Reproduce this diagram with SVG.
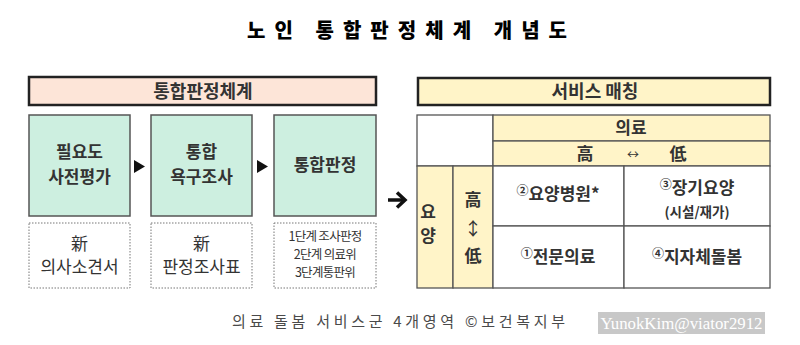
<svg xmlns="http://www.w3.org/2000/svg" width="800" height="345" viewBox="0 0 800 345">
<defs>
<style>
text{font-family:"Noto Sans CJK KR","Noto Sans",sans-serif;fill:#222}
.title{font-size:20px;font-weight:900;fill:#000}
.banner{stroke:#222;stroke-width:2.5}
.bt{font-size:18px;font-weight:700;fill:#333;text-anchor:middle}
.gbox{fill:#CDEFE0;stroke:#555;stroke-width:1.5}
.gt{font-size:17px;font-weight:700;fill:#333;text-anchor:middle}
.dbox{fill:#fff;stroke:#777;stroke-width:1;stroke-dasharray:1.5 1.5}
.dt{font-size:17px;fill:#333;text-anchor:middle}
.st{font-size:12.5px;fill:#333;text-anchor:middle;letter-spacing:-0.7px}
.cell{stroke:#555;stroke-width:1.3}
.tt{font-size:17px;font-weight:700;fill:#333;text-anchor:middle}
.sup{font-size:12px}
</style>
</defs>
<rect width="800" height="345" fill="#fff"/>
<text class="title" x="247" y="38" textLength="320" lengthAdjust="spacing">노인 통합판정체계 개념도</text>

<g id="left-header">
<rect class="banner" x="29" y="77" width="347" height="28" fill="#FDE5D8"/>
<text class="bt" x="203" y="98">통합판정체계</text>
</g>

<g id="node-need">
<rect class="gbox" x="29" y="115" width="101" height="101"/>
<text class="gt" x="79.5" y="158">필요도</text>
<text class="gt" x="79.5" y="183">사전평가</text>
</g>
<g id="node-survey">
<rect class="gbox" x="151" y="115" width="101" height="101"/>
<text class="gt" x="201.5" y="158">통합</text>
<text class="gt" x="201.5" y="183">욕구조사</text>
</g>
<g id="node-judge">
<rect class="gbox" x="274" y="115" width="102" height="101"/>
<text class="gt" x="325" y="171">통합판정</text>
</g>

<g id="note-need">
<rect class="dbox" x="29" y="223" width="101" height="65"/>
<text class="dt" x="79.5" y="250">新</text>
<text class="dt" x="79.5" y="273">의사소견서</text>
</g>
<g id="note-survey">
<rect class="dbox" x="151" y="223" width="101" height="65"/>
<text class="dt" x="201.5" y="250">新</text>
<text class="dt" x="201.5" y="273">판정조사표</text>
</g>
<g id="note-judge">
<rect class="dbox" x="274" y="223" width="102" height="65"/>
<text class="st" x="325" y="241">1단계 조사판정</text>
<text class="st" x="325" y="259">2단계 의료위</text>
<text class="st" x="325" y="277">3단계통판위</text>
</g>

<g id="connectors">
<path d="M134,160 L145,166.5 L134,173 z" fill="#111"/>
<path d="M257,160 L268,166.5 L257,173 z" fill="#111"/>
<path d="M388,200 L404,200" stroke="#111" stroke-width="3.5" fill="none"/>
<path d="M397,192.5 L405,200 L397,207.5" stroke="#111" stroke-width="3.5" fill="none"/>
</g>

<g id="right-header">
<rect class="banner" x="418" y="78" width="352" height="27" fill="#FFF4C8"/>
<text class="bt" x="595" y="98">서비스 매칭</text>
</g>

<g id="matrix">
<rect class="cell" x="417" y="115" width="76" height="51" fill="#fff"/>
<rect class="cell" x="493" y="115" width="277" height="26" fill="#FFF4C8"/>
<rect class="cell" x="493" y="141" width="277" height="25" fill="#FFF4C8"/>
<rect class="cell" x="417" y="166" width="36" height="122" fill="#FFF4C8"/>
<rect class="cell" x="453" y="166" width="40" height="122" fill="#FFF4C8"/>
<rect class="cell" x="493" y="166" width="131" height="60" fill="#fff"/>
<rect class="cell" x="624" y="166" width="146" height="60" fill="#fff"/>
<rect class="cell" x="493" y="226" width="131" height="62" fill="#fff"/>
<rect class="cell" x="624" y="226" width="146" height="62" fill="#fff"/>
<text class="tt" x="631" y="134">의료</text>
<text class="tt" x="585" y="160">高</text>
<text class="tt" x="633" y="159" style="font-size:12px;font-weight:400">↔</text>
<text class="tt" x="678" y="160">低</text>
<text class="tt" x="428" y="218">요</text>
<text class="tt" x="428" y="242">양</text>
<text class="tt" x="473" y="206">高</text>
<text class="tt" x="473" y="235" style="font-size:18px;font-weight:400">↕</text>
<text class="tt" x="473" y="262">低</text>
<text class="tt" x="558" y="200"><tspan class="sup" dy="-5">②</tspan><tspan dy="5">요양병원*</tspan></text>
<text class="tt" x="697" y="194"><tspan class="sup" dy="-5">③</tspan><tspan dy="5">장기요양</tspan></text>
<text class="tt" x="697" y="217" style="font-size:13.5px">(시설/재가)</text>
<text class="tt" x="558" y="263"><tspan class="sup" dy="-5">①</tspan><tspan dy="5">전문의료</tspan></text>
<text class="tt" x="697" y="263"><tspan class="sup" dy="-5">④</tspan><tspan dy="5">지자체돌봄</tspan></text>
</g>

<text x="232" y="327" textLength="333" lengthAdjust="spacing" style="font-size:15px;fill:#4a4a4a">의료 돌봄 서비스군 4개영역 ©보건복지부</text>
<rect x="598" y="312" width="167" height="22" fill="#C8C8C8"/>
<text x="681.5" y="329" text-anchor="middle" textLength="162" lengthAdjust="spacingAndGlyphs" style="font-family:'Liberation Serif',serif;font-size:16px;fill:#fff">YunokKim@viator2912</text>
</svg>
